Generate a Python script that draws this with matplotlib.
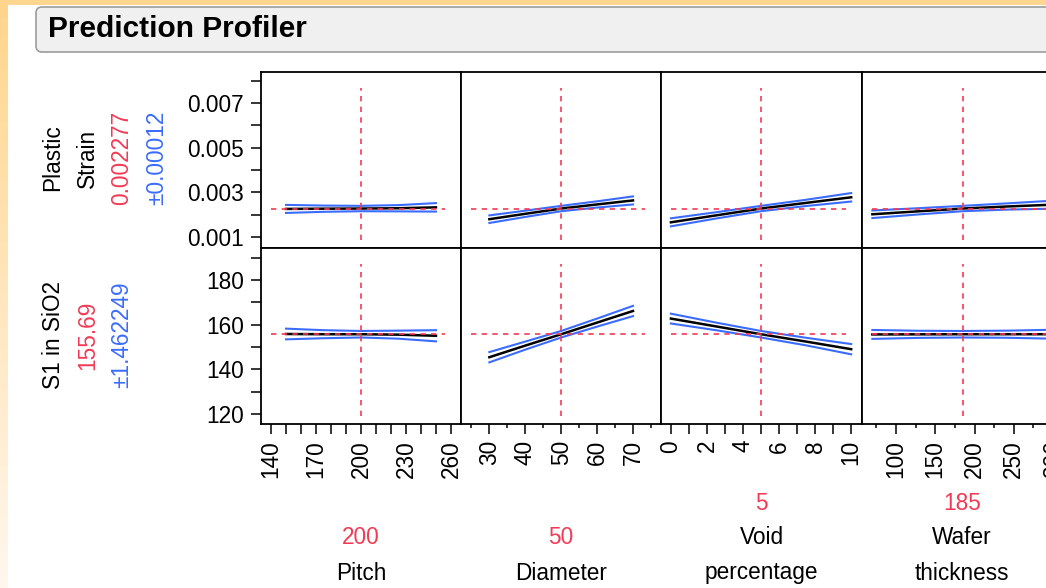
import numpy as np
import matplotlib
matplotlib.use("Agg")
import matplotlib.pyplot as plt
from matplotlib.patches import FancyBboxPatch, Rectangle
from matplotlib.transforms import IdentityTransform
from matplotlib.ticker import FixedLocator, FixedFormatter

plt.rcParams['font.family'] = ['Liberation Sans', 'DejaVu Sans']

# ---------------- data ----------------
factor_names = ["Pitch", "Diameter", "Void\npercentage", "Wafer\nthickness"]
factor_current = [200, 50, 5, 185]

pitch_x = [150, 175, 200, 225, 250]
diameter_x = [30, 40, 50, 60, 70]
void_x = [0, 2.5, 5, 7.5, 10]
wafer_x = [70, 127.5, 185, 242.5, 300]

# Plastic Strain response traces (prediction and CI half-width)
strain_current = 0.002277
strain_ci_label = "±0.00012"
strain_pitch = [0.00226, 0.00227, 0.002277, 0.00229, 0.00233]
strain_pitch_ci = [0.00018, 0.00014, 0.00012, 0.00014, 0.00019]
strain_diameter = [0.00180, 0.00204, 0.002277, 0.00246, 0.00264]
strain_diameter_ci = [0.00017, 0.00014, 0.00012, 0.00014, 0.00018]
strain_void = [0.00166, 0.00197, 0.002277, 0.00253, 0.00278]
strain_void_ci = [0.00018, 0.00014, 0.00012, 0.00014, 0.00019]
strain_wafer = [0.00202, 0.00215, 0.002277, 0.00237, 0.00245]
strain_wafer_ci = [0.00017, 0.00014, 0.00012, 0.00014, 0.00018]

# S1 in SiO2 response traces
s1_current = 155.69
s1_ci_label = "±1.462249"
s1_pitch = [155.8, 155.7, 155.69, 155.5, 155.0]
s1_pitch_ci = [2.4, 1.8, 1.462249, 1.8, 2.5]
s1_diameter = [145.4, 150.6, 155.69, 160.9, 166.1]
s1_diameter_ci = [2.3, 1.8, 1.462249, 1.8, 2.3]
s1_void = [162.7, 159.2, 155.69, 152.4, 149.0]
s1_void_ci = [2.2, 1.7, 1.462249, 1.7, 2.3]
s1_wafer = [155.6, 155.65, 155.69, 155.7, 155.7]
s1_wafer_ci = [2.0, 1.6, 1.462249, 1.6, 2.0]

# ---------------- styling / layout ----------------
W, H, DPI = 1046, 588, 100
RED = "#F23A55"
BLUE = "#3B6CFF"
FS = 16.3

fig = plt.figure(figsize=(W / DPI, H / DPI), dpi=DPI)
fig.patch.set_facecolor("white")

# window frame: orange top band and fading left strip
bg = fig.add_axes([0, 0, 8 / W, 1])
grad = np.linspace(0, 1, 256)[:, None]
c_top = np.array([255, 213, 140]) / 255
c_bot = np.array([255, 247, 238]) / 255
img = c_top[None, None, :] * (1 - grad[..., None]) + c_bot[None, None, :] * grad[..., None]
bg.imshow(img, aspect="auto", extent=[0, 1, 0, 1])
bg.set_axis_off()
fig.add_artist(Rectangle((0, H - 5), W, 5, transform=IdentityTransform(),
                         facecolor="#FFD690", edgecolor="none", zorder=0))

# title bar
fig.add_artist(FancyBboxPatch((36, H - 52), 1040, 45,
                              boxstyle="round,pad=0,rounding_size=6",
                              transform=IdentityTransform(),
                              facecolor="#F0F0F0", edgecolor="#9C9C9C", lw=1.2))
fig.text(48 / W, 1 - 29 / H, "Prediction Profiler", fontsize=21.5,
         fontweight="bold", va="center", ha="left")

cols_px = [(261, 461), (461, 661), (661, 862), (862, 1062)]
rows_px = [(72, 248), (248, 424)]

x_limits = [(133.3, 266.7), (22.1, 77.8), (-0.55, 10.6), (56.8, 311.3)]
x_major = [[140, 170, 200, 230, 260], [30, 40, 50, 60, 70],
           [0, 2, 4, 6, 8, 10], [100, 150, 200, 250, 300]]
x_minor = [[150, 160, 180, 190, 210, 220, 240, 250], [25, 35, 45, 55, 65, 75],
           [1, 3, 5, 7, 9], [75, 125, 175, 225, 275]]
x_minor_len = [7.5, 3.2, 7.5, 3.2]

y_limits = [(0.00051, 0.00839), (115.5, 194.3)]
y_major = [[0.001, 0.003, 0.005, 0.007], [120, 140, 160, 180]]
y_major_lbl = [["0.001", "0.003", "0.005", "0.007"], ["120", "140", "160", "180"]]
y_minor = [[0.002, 0.004, 0.006, 0.008], [130, 150, 170, 190]]

xs = [pitch_x, diameter_x, void_x, wafer_x]
preds = [[strain_pitch, strain_diameter, strain_void, strain_wafer],
         [s1_pitch, s1_diameter, s1_void, s1_wafer]]
cis = [[strain_pitch_ci, strain_diameter_ci, strain_void_ci, strain_wafer_ci],
       [s1_pitch_ci, s1_diameter_ci, s1_void_ci, s1_wafer_ci]]
resp_current = [strain_current, s1_current]

for r, (top, bot) in enumerate(rows_px):
    for c, (left, right) in enumerate(cols_px):
        ax = fig.add_axes([left / W, 1 - bot / H, (right - left) / W, (bot - top) / H])
        ax.set_xlim(*x_limits[c])
        ax.set_ylim(*y_limits[r])
        for sp in ax.spines.values():
            sp.set_linewidth(1.3)
            sp.set_color("black")

        x = np.array(xs[c], dtype=float)
        p = np.array(preds[r][c])
        e = np.array(cis[r][c])
        ax.plot(x, p + e, color=BLUE, lw=1.5, zorder=3)
        ax.plot(x, p - e, color=BLUE, lw=1.5, zorder=3)
        ax.plot(x, p, color="black", lw=1.8, zorder=4)

        ax.axhline(resp_current[r], xmin=0.05, xmax=0.92, color=RED, lw=1.2,
                   linestyle=(0, (3.2, 3.2)), zorder=5)
        ax.axvline(factor_current[c], ymin=0.045, ymax=0.91, color=RED, lw=1.2,
                   linestyle=(0, (3.2, 3.2)), zorder=5)

        # y axis only on the first column
        if c == 0:
            ax.yaxis.set_major_locator(FixedLocator(y_major[r]))
            ax.yaxis.set_major_formatter(FixedFormatter(y_major_lbl[r]))
            ax.yaxis.set_minor_locator(FixedLocator(y_minor[r]))
            ax.tick_params(axis="y", which="both", direction="out", length=7.5,
                           width=1.1, labelsize=FS, pad=5)
        else:
            ax.set_yticks([])

        # x axis only on the bottom row
        if r == 1:
            ax.xaxis.set_major_locator(FixedLocator(x_major[c]))
            ax.xaxis.set_major_formatter(FixedFormatter([f"{v:g}" for v in x_major[c]]))
            ax.xaxis.set_minor_locator(FixedLocator(x_minor[c]))
            ax.tick_params(axis="x", which="major", direction="out", length=7.5,
                           width=1.1, labelsize=FS, pad=4, labelrotation=90)
            ax.tick_params(axis="x", which="minor", direction="out",
                           length=x_minor_len[c], width=1.1)
        else:
            ax.set_xticks([])

# response labels on the left
row_label_lines = [
    [("Plastic", "black"), ("Strain", "black"), (f"{strain_current:g}", RED),
     (strain_ci_label, BLUE)],
    [("S1 in SiO2", "black"), (f"{s1_current:g}", RED), (s1_ci_label, BLUE)],
]
row_centers = [158, 335]
for r, lines in enumerate(row_label_lines):
    for i, (txt, col) in enumerate(lines):
        fig.text((53 + 34.5 * i) / W, 1 - row_centers[r] / H, txt, rotation=90,
                 ha="center", va="center", fontsize=FS, color=col)

# factor labels below the columns
for c, (left, right) in enumerate(cols_px):
    cx = (left + right) / 2
    lines = [(f"{factor_current[c]:g}", RED)] + [(s, "black") for s in factor_names[c].split("\n")]
    n = len(lines)
    for i, (txt, col) in enumerate(lines):
        y = 573 - 35 * (n - 1 - i)
        fig.text(cx / W, 1 - y / H, txt, ha="center", va="center",
                 fontsize=FS, color=col)

fig.savefig("out.png", dpi=DPI)
